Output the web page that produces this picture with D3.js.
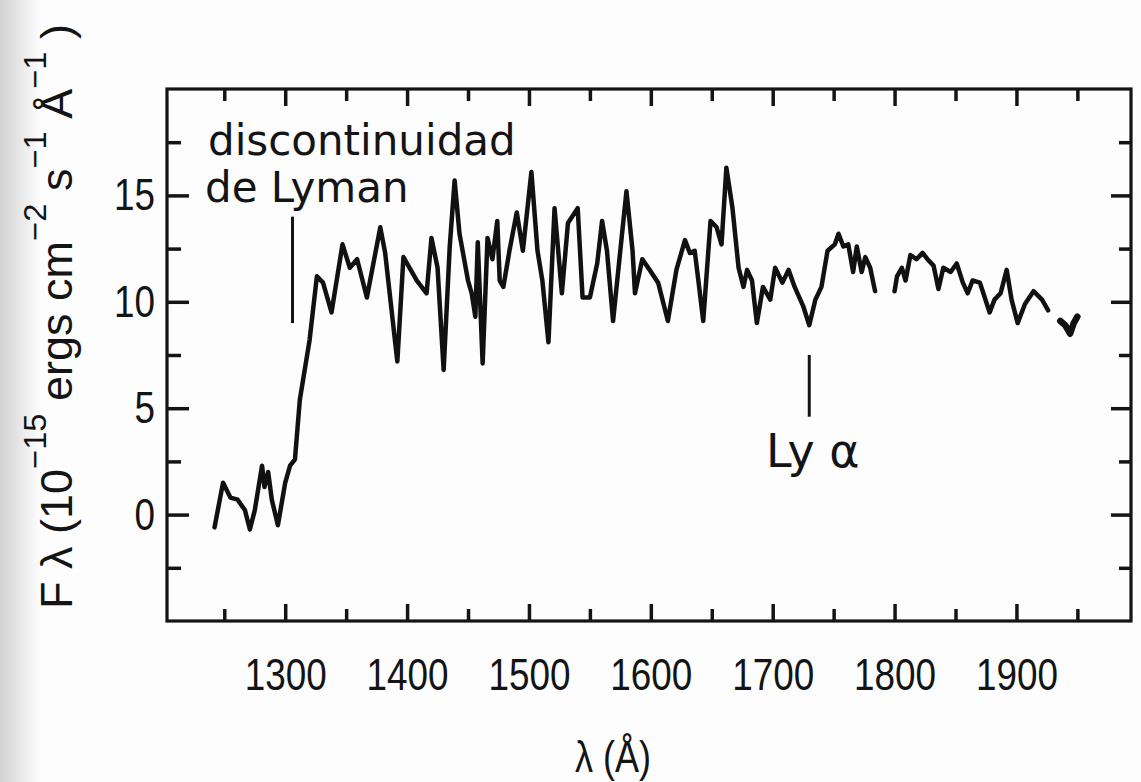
<!DOCTYPE html>
<html>
<head>
<meta charset="utf-8">
<script src="https://cdn.jsdelivr.net/npm/d3@7"></script>
<style>
	html, body { margin: 0; padding: 0; background: #fdfdfd; }
	svg { display: block; }
	.narrow { font-family: 'Liberation Sans Narrow', 'Liberation Sans', sans-serif; fill: #141414; }
	.note { font-family: 'DejaVu Sans', sans-serif; fill: #141414; }
	.tick line { stroke: #141414; stroke-width: 3.5; }
</style>
</head>
<body>
<svg id="chart" width="1141" height="782"></svg>
<script>
// spectrum: [wavelength (A), flux (1e-15 erg cm-2 s-1 A-1)]
const spectrumShort = [
	[1242, -0.6], [1249, 1.5], [1255, 0.8], [1261, 0.7], [1267, 0.2], [1271, -0.7],
	[1275, 0.2], [1281, 2.3], [1283, 1.3], [1286, 2.0], [1289, 0.7], [1294, -0.5],
	[1300, 1.5], [1304, 2.3], [1308, 2.6], [1312, 5.4], [1320, 8.2], [1326, 11.2],
	[1331, 10.9], [1338, 9.5], [1347, 12.7], [1353, 11.6], [1359, 12.0], [1367, 10.2],
	[1378, 13.5], [1382, 12.3], [1392, 7.2], [1397, 12.1], [1408, 11.0], [1416, 10.4],
	[1420, 13.0], [1425, 11.6], [1430, 6.8], [1435, 12.6], [1439, 15.7], [1443, 13.2],
	[1450, 11.0], [1453, 10.4], [1456, 9.3], [1458, 12.8], [1462, 7.1], [1466, 13.0],
	[1470, 12.0], [1474, 13.8], [1476, 11.0], [1479, 10.7], [1484, 12.4], [1490, 14.2],
	[1495, 12.4], [1502, 16.1], [1507, 12.4], [1511, 11.0], [1516, 8.1], [1521, 14.4],
	[1527, 10.4], [1532, 13.7], [1540, 14.4], [1544, 10.2], [1550, 10.2], [1556, 11.8],
	[1560, 13.8], [1564, 12.4], [1569, 9.1], [1580, 15.2], [1585, 12.4], [1587, 10.4],
	[1593, 12.0], [1599, 11.5], [1606, 10.9], [1614, 9.1], [1621, 11.5], [1628, 12.9],
	[1632, 12.3], [1636, 12.4], [1639, 11.0], [1643, 9.1], [1649, 13.8], [1654, 13.5],
	[1658, 12.7], [1662, 16.3], [1667, 14.4], [1672, 11.6], [1676, 10.7], [1679, 11.5],
	[1683, 11.0], [1687, 9.0], [1692, 10.7], [1698, 10.1], [1702, 11.6], [1708, 10.9],
	[1713, 11.5], [1718, 10.7], [1725, 9.8], [1730, 8.9], [1735, 10.1], [1740, 10.7],
	[1745, 12.4], [1751, 12.7], [1754, 13.2], [1758, 12.6], [1762, 12.7], [1766, 11.4],
	[1769, 12.6], [1773, 11.4], [1776, 12.1], [1780, 11.6], [1784, 10.5]
];
const spectrumLong = [
	[1800, 10.5], [1802, 11.2], [1806, 11.6], [1809, 11.0], [1813, 12.2], [1818, 12.0],
	[1823, 12.3], [1827, 12.0], [1832, 11.7], [1836, 10.6], [1840, 11.6], [1846, 11.4],
	[1851, 11.8], [1856, 10.9], [1860, 10.4], [1864, 11.0], [1870, 10.9], [1874, 10.2],
	[1878, 9.5], [1882, 10.1], [1887, 10.4], [1892, 11.5], [1896, 10.1], [1901, 9.0],
	[1907, 9.9], [1914, 10.5], [1921, 10.1], [1926, 9.6]
];
const spectrumTail = [[1936, 9.1], [1940, 8.9], [1944, 8.5], [1947, 9.0], [1950, 9.3]];

const xMajorTicks = [1300, 1400, 1500, 1600, 1700, 1800, 1900];
const xMinorTicks = [1250, 1350, 1450, 1550, 1650, 1750, 1850, 1950];
const yMajorTicks = [0, 5, 10, 15];
const yMinorTicks = [-2.5, 2.5, 7.5, 12.5, 17.5];

// marker lines: [wavelength, flux from, flux to]
const lymanLimitMark = [1306, 9.0, 14.0];
const lymanAlphaMark = [1730, 4.6, 7.5];

const SpectrumChart = {
	left: 167,
	right: 1131,
	top: 89,
	bottom: 621,
	squeeze: 0.82,

	draw: function() {
		const self = this;
		self.svg = d3.select('#chart');
		self.x = d3.scaleLinear().domain([ 1203, 1994 ]).range([ self.left, self.right ]);
		self.y = d3.scaleLinear().domain([ -5, 20 ]).range([ self.bottom, self.top ]);

		self.drawPaper();
		self.drawAxes();
		self.drawSpectrum();
		self.drawNotes();
		self.drawTitles();
	},

	drawPaper: function() {
		const self = this;
		let grad = self.svg.append('defs').append('linearGradient')
			.attr('id', 'edge');
		grad.append('stop').attr('offset', '0%').attr('stop-color', '#d2d2d2');
		grad.append('stop').attr('offset', '100%').attr('stop-color', '#fdfdfd');

		self.svg.append('rect')
			.attr('x', 0).attr('y', 0)
			.attr('width', 40).attr('height', 782)
			.style('fill', 'url(#edge)');
	},

	drawAxes: function() {
		const self = this;
		let fmt = d3.format('d');
		let axes = [
			{ axis: d3.axisBottom(self.x).tickValues(xMinorTicks).tickSize(-12), at: [ 0, self.bottom ], labels: false },
			{ axis: d3.axisBottom(self.x).tickValues(xMajorTicks).tickSize(-17).tickPadding(37), at: [ 0, self.bottom ], labels: true },
			{ axis: d3.axisTop(self.x).tickValues(xMinorTicks).tickSize(-12), at: [ 0, self.top ], labels: false },
			{ axis: d3.axisTop(self.x).tickValues(xMajorTicks).tickSize(-17), at: [ 0, self.top ], labels: false },
			{ axis: d3.axisLeft(self.y).tickValues(yMinorTicks).tickSize(-14), at: [ self.left, 0 ], labels: false },
			{ axis: d3.axisLeft(self.y).tickValues(yMajorTicks).tickSize(-22).tickPadding(12), at: [ self.left, 0 ], labels: true },
			{ axis: d3.axisRight(self.y).tickValues(yMinorTicks).tickSize(-12), at: [ self.right, 0 ], labels: false },
			{ axis: d3.axisRight(self.y).tickValues(yMajorTicks).tickSize(-20), at: [ self.right, 0 ], labels: false }
		];

		for (let i = 0; i < axes.length; i++) {
			let a = axes[i];
			a.axis.tickFormat(a.labels ? fmt : '');

			let g = self.svg.append('g')
				.attr('transform', 'translate(' + a.at[0] + ',' + a.at[1] + ')')
				.call(a.axis);

			g.select('.domain').remove();
			g.selectAll('text')
				.attr('class', 'narrow')
				.style('font-size', '45px')
				.style('fill', '#141414')
				.each(function() {
					// condensed look of the original lettering
					let t = d3.select(this);
					let x0 = +t.attr('x') || 0;
					t.attr('x', x0 / self.squeeze)
						.attr('transform', 'scale(' + self.squeeze + ',1)');
				});
		}

		self.svg.append('rect')
			.attr('x', self.left)
			.attr('y', self.top)
			.attr('width', self.right - self.left)
			.attr('height', self.bottom - self.top)
			.style('fill', 'none')
			.style('stroke', '#141414')
			.style('stroke-width', 3.2);
	},

	drawSpectrum: function() {
		const self = this;
		let line = d3.line()
			.x(d => self.x(d[0]))
			.y(d => self.y(d[1]));
		let parts = [ spectrumShort, spectrumLong, spectrumTail ];

		for (let i = 0; i < parts.length; i++)
			self.svg.append('path')
				.datum(parts[i])
				.attr('d', line)
				.style('fill', 'none')
				.style('stroke', '#111')
				.style('stroke-width', i == 2 ? 6.5 : 4.5)
				.style('stroke-linejoin', 'round')
				.style('stroke-linecap', 'round');
	},

	drawNotes: function() {
		const self = this;
		let marks = [ lymanLimitMark, lymanAlphaMark ];

		for (let i = 0; i < marks.length; i++)
			self.svg.append('line')
				.attr('x1', self.x(marks[i][0]))
				.attr('x2', self.x(marks[i][0]))
				.attr('y1', self.y(marks[i][1]))
				.attr('y2', self.y(marks[i][2]))
				.style('stroke', '#141414')
				.style('stroke-width', 3);

		self.svg.append('text')
			.attr('class', 'note')
			.attr('x', 208).attr('y', 155)
			.style('font-size', '42px')
			.text('discontinuidad');

		self.svg.append('text')
			.attr('class', 'note')
			.attr('x', 205).attr('y', 202)
			.style('font-size', '42px')
			.text('de Lyman');

		self.svg.append('text')
			.attr('class', 'note')
			.attr('x', 766).attr('y', 467)
			.style('font-size', '46px')
			.text('Ly α');
	},

	drawTitles: function() {
		const self = this;

		self.svg.append('text')
			.attr('class', 'narrow')
			.attr('x', 613 / self.squeeze).attr('y', 772)
			.attr('transform', 'scale(' + self.squeeze + ',1)')
			.attr('text-anchor', 'middle')
			.style('font-size', '44px')
			.text('λ (Å)');

		let title = self.svg.append('text')
			.attr('class', 'narrow')
			.style('font-size', '44px');
		let pieces = [
			[ 'F λ (10', 0 ], [ '−15', -26 ], [ ' ergs cm', 26 ], [ '−2', -26 ],
			[ ' s', 26 ], [ '−1', -26 ], [ ' Å', 26 ], [ '−1', -26 ], [ ' )', 26 ]
		];

		for (let i = 0; i < pieces.length; i++)
			title.append('tspan')
				.attr('dy', pieces[i][1])
				.style('font-size', pieces[i][1] < 0 ? '32px' : '44px')
				.text(pieces[i][0]);

		let len = title.node().getComputedTextLength();
		let span = 609 - 24;
		title.attr('transform', 'translate(72,609) rotate(-90) scale(' + (span / len) + ',1)');
	}
}

SpectrumChart.draw();
</script>
</body>
</html>
